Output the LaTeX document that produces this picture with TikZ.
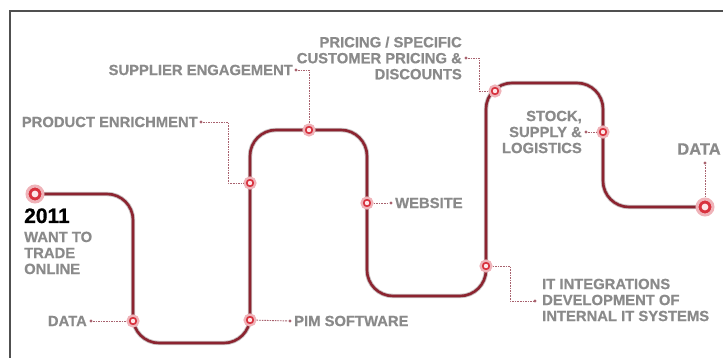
\documentclass[tikz,border=0pt]{standalone}
\usepackage{fontspec}
\setmainfont{Liberation Sans}[BoldFeatures={FakeBold=0.6}]
\definecolor{track}{HTML}{8C2430}
\definecolor{trackshade}{HTML}{C9C2C3}
\definecolor{stopred}{HTML}{D8323E}
\definecolor{halo}{HTML}{EFB3B9}
\definecolor{stopcore}{HTML}{FCE6E8}
\definecolor{labelgray}{HTML}{8A8A8A}
\definecolor{leader}{HTML}{A8626E}
\definecolor{frame}{HTML}{505050}
\begin{document}
\begin{tikzpicture}[x=1pt,y=-1pt,
  stopnode/.style={circle, inner sep=0pt, minimum size=11pt, fill=stopred,
    draw=halo, line width=2.2pt,
    path picture={\fill[stopcore] (path picture bounding box.center) circle (2.2pt);}},
  bigstop/.style={circle, inner sep=0pt, minimum size=16pt, fill=stopred,
    draw=halo, line width=3pt,
    path picture={\fill[stopcore] (path picture bounding box.center) circle (3.4pt);}},
  lbl/.style={font=\bfseries\fontsize{14.8}{16}\selectfont, text=labelgray, inner sep=0pt},
  ldot/.style={circle, fill=leader, inner sep=0pt, minimum size=3.4pt},
  leaderline/.style={draw=leader, line width=0.9pt, dash pattern=on 1.6pt off 1pt},
  trackline/.style={draw=track, line width=2.6pt, rounded corners=26pt},
  trackshadow/.style={draw=trackshade, line width=4.4pt, rounded corners=26pt}
]
\useasboundingbox (0,0) rectangle (723,358);

% frame (top and left edges)
\draw[frame, line width=1.6pt] (10,358) -- (10,11) -- (723,11);

% ends of the route
\coordinate (start) at (35,194);
\coordinate (finish) at (705,207);

% the winding route
\foreach \st in {trackshadow,trackline}{
  \path[\st] (start) -- (133,194) -- (133,343) -- (250,343) -- (250,130)
    -- (367,130) -- (367,296) -- (486,296) -- (486,83) -- (603,83)
    -- (603,207) -- (finish);
}

% stops along the route
\node[bigstop]  (sStart) at (start) {};
\node[stopnode] (sData1) at (133,321) {};
\node[stopnode] (sPim)   at (250,320) {};
\node[stopnode] (sProd)  at (250,183) {};
\node[stopnode] (sSup)   at (309,130) {};
\node[stopnode] (sWeb)   at (367,203) {};
\node[stopnode] (sIT)    at (486,266) {};
\node[stopnode] (sPrice) at (495,91) {};
\node[stopnode] (sStock) at (603,132) {};
\node[bigstop]  (sEnd)   at (finish) {};

% start label
\node[font=\bfseries\fontsize{21}{24}\selectfont, inner sep=0pt, anchor=base west] (year) at (24,223) {2011};
\node[lbl, anchor=north west, align=left] (want) at (24,231.5) {WANT TO\\TRADE\\ONLINE};

% labels and their leader dots
\node[lbl, anchor=east] (lData1) at (87,321) {DATA};
\node[ldot] (dData1) at (91,321) {};
\draw[leaderline] (dData1) -- (sData1);

\node[lbl, anchor=west] (lPim) at (294,321) {PIM SOFTWARE};
\node[ldot] (dPim) at (290,321) {};
\draw[leaderline] (sPim) -- (dPim);

\node[lbl, anchor=east] (lProd) at (198,122) {PRODUCT ENRICHMENT};
\node[ldot] (dProd) at (201,122) {};
\draw[leaderline] (dProd) -- ++(27,0) |- (sProd);

\node[lbl, anchor=east] (lSup) at (293,70) {SUPPLIER ENGAGEMENT};
\node[ldot] (dSup) at (296,70) {};
\draw[leaderline] (dSup) -| (sSup);

\node[lbl, anchor=west] (lWeb) at (395,203) {WEBSITE};
\node[ldot] (dWeb) at (391,203) {};
\draw[leaderline] (sWeb) -- (dWeb);

\node[lbl, anchor=east, align=right] (lPrice) at (462,58) {PRICING / SPECIFIC\\CUSTOMER PRICING \&\\DISCOUNTS};
\node[ldot] (dPrice) at (466,58) {};
\draw[leaderline] (dPrice) -- ++(13,0) |- (sPrice);

\node[lbl, anchor=west, align=left] (lIT) at (542,300) {IT INTEGRATIONS\\DEVELOPMENT OF\\INTERNAL IT SYSTEMS};
\node[ldot] (dIT) at (535,301) {};
\draw[leaderline] (sIT) -- ++(24,0) |- (dIT);

\node[lbl, anchor=east, align=right] (lStock) at (582,132) {STOCK,\\SUPPLY \&\\LOGISTICS};
\node[ldot] (dStock) at (586,132) {};
\draw[leaderline] (dStock) -- (sStock);

\node[lbl, font=\bfseries\fontsize{16.5}{18}\selectfont] (lData2) at (699,149) {DATA};
\node[ldot] (dData2) at (705,163) {};
\draw[leaderline] (dData2) -- (sEnd);
\end{tikzpicture}
\end{document}
